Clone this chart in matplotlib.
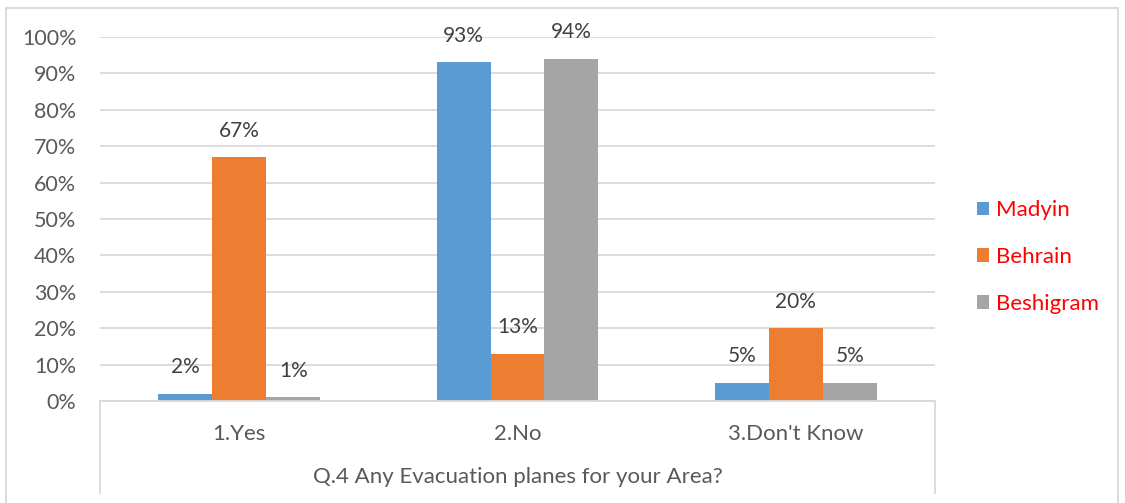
import matplotlib
matplotlib.use("Agg")
import matplotlib.pyplot as plt
from matplotlib.lines import Line2D
import numpy as np

plt.rcParams['font.family'] = ['Lato', 'DejaVu Sans']

categories = ["1.Yes", "2.No", "3.Don't Know"]
series_names = ["Madyin", "Behrain", "Beshigram"]
madyin = [2, 93, 5]
behrain = [67, 13, 20]
beshigram = [1, 94, 5]
yticks = [0, 10, 20, 30, 40, 50, 60, 70, 80, 90, 100]
axis_title = "Q.4 Any Evacuation planes for your Area?"

colors = ["#5B9BD5", "#ED7D31", "#A5A5A5"]
grid_color = "#D9D9D9"
text_gray = "#595959"
label_gray = "#404040"

W, H = 1125, 503
fig = plt.figure(figsize=(W / 100, H / 100), dpi=100)

def fx(px):
    return px / W

def fy(py):
    return 1 - py / H

left, right, top, bottom = 100, 935, 37, 401
ax = fig.add_axes([fx(left), fy(bottom), fx(right) - fx(left), fy(top) - fy(bottom)])

x = np.arange(len(categories))
bw = 0.194
series = [madyin, behrain, beshigram]
for i, (vals, name, col) in enumerate(zip(series, series_names, colors)):
    bars = ax.bar(x + (i - 1) * bw, vals, width=bw, color=col, label=name, zorder=3)
    for rect, v in zip(bars, vals):
        ax.annotate(f"{v}%", (rect.get_x() + rect.get_width() / 2, v),
                    xytext=(0, 19), textcoords="offset points",
                    ha="center", va="center", fontsize=15, color=label_gray)

ax.set_xlim(-0.5, len(categories) - 0.5)
ax.set_ylim(0, 100)
ax.set_yticks(yticks)
ax.set_yticklabels([f"{t}%" for t in yticks], fontsize=15.5, color=text_gray)
ax.tick_params(axis="y", length=0, pad=17)
ax.set_xticks([])
ax.grid(axis="y", color=grid_color, lw=1.3, zorder=0)
for s in ["top", "right", "left"]:
    ax.spines[s].set_visible(False)
ax.spines["bottom"].set_color(grid_color)
ax.spines["bottom"].set_linewidth(1.3)
ax.spines["bottom"].set_zorder(4)

# category labels and axis title below the plot
for i, c in enumerate(categories):
    cx = left + (right - left) * (i + 0.5) / len(categories)
    fig.text(fx(cx), fy(434), c, ha="center", va="center", fontsize=16, color=text_gray)
fig.text(fx((left + right) / 2), fy(477), axis_title, ha="center", va="center",
         fontsize=16, color=text_gray)

# category box sides
for px in (left, right):
    fig.add_artist(Line2D([fx(px), fx(px)], [fy(bottom), fy(493)], color=grid_color, lw=1.3))

# chart outer frame (open at the bottom)
frame = dict(color="#D9D9D9", lw=1.3)
fig.add_artist(Line2D([fx(6), fx(1118)], [fy(8), fy(8)], **frame))
fig.add_artist(Line2D([fx(6), fx(6)], [fy(8), fy(503)], **frame))
fig.add_artist(Line2D([fx(1118), fx(1118)], [fy(8), fy(503)], **frame))

leg = fig.legend(loc="center left", bbox_to_anchor=(fx(966), fy(257)), frameon=False,
                 fontsize=16, labelcolor="red", handlelength=0.55, handleheight=0.55,
                 handletextpad=0.3, labelspacing=1.2, borderpad=0)

fig.savefig("out.png", dpi=100)
